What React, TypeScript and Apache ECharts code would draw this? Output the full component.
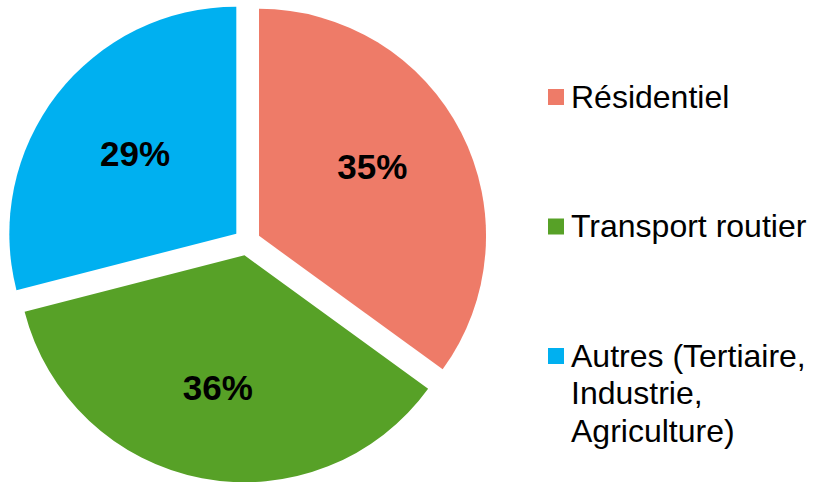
import React, { useEffect, useRef } from "react";
import * as echarts from "echarts";

const categories = ["Résidentiel", "Transport routier", "Autres (Tertiaire, Industrie, Agriculture)"];
const legendLabels = ["Résidentiel", "Transport routier", "Autres (Tertiaire,\nIndustrie,\nAgriculture)"];
const shares = [35, 36, 29];
const colors = ["#EE7B68", "#57A127", "#00B0F0"];

export default function App() {
  const ref = useRef<HTMLDivElement>(null);
  useEffect(() => {
    if (!ref.current) return;
    const chart = echarts.init(ref.current, undefined, { renderer: "svg" });
    const font = "'Liberation Sans', Arial, sans-serif";
    const center = [247, 242];
    const R = 227;
    const offset = 13.5;
    // per-slice fine nudges of the percentage labels [dx, dy]
    const labelNudge = [
      [-6.5, -8.5],
      [-1.5, 0],
      [5, 2.5],
    ];

    const mainData = categories.map((name, i) => ({
      name,
      value: shares[i],
      selected: true,
      itemStyle: { color: colors[i] },
      select: { itemStyle: { color: colors[i] } },
    }));
    const labelData = categories.map((name, i) => ({
      name,
      value: shares[i],
      selected: true,
      itemStyle: { color: "rgba(0,0,0,0)" },
      select: { itemStyle: { color: "rgba(0,0,0,0)" } },
    }));

    const legendTop = [97, 226.5, 356];
    const graphic: any[] = [];
    legendLabels.forEach((label, i) => {
      graphic.push({
        type: "rect",
        left: 548,
        top: legendTop[i] - 8,
        shape: { width: 16, height: 16 },
        style: { fill: colors[i] },
        silent: true,
      });
      graphic.push({
        type: "text",
        x: 571,
        y: legendTop[i] - 19,
        style: {
          text: label,
          font: `32px ${font}`,
          fill: "#000",
          lineHeight: 37.5,
          verticalAlign: "top",
          textAlign: "left",
        },
        silent: true,
      });
    });

    chart.setOption({
      animation: false,
      backgroundColor: "#fff",
      graphic,
      series: [
        {
          type: "pie",
          center,
          radius: [0, R],
          startAngle: 90,
          clockwise: true,
          selectedMode: "multiple",
          selectedOffset: offset,
          silent: true,
          emphasis: { disabled: true },
          label: { show: false },
          labelLine: { show: false },
          itemStyle: { borderWidth: 0 },
          data: mainData,
        },
        {
          type: "pie",
          center,
          radius: [36, R],
          startAngle: 90,
          clockwise: true,
          selectedMode: "multiple",
          selectedOffset: offset,
          silent: true,
          emphasis: { disabled: true },
          labelLine: { show: false },
          label: {
            show: true,
            position: "inside",
            formatter: (p: any) => `${p.value}%`,
            fontFamily: font,
            fontSize: 35,
            fontWeight: "bold",
            color: "#000",
          },
          labelLayout: (p: any) => ({
            dx: labelNudge[p.dataIndex][0],
            dy: labelNudge[p.dataIndex][1],
          }),
          itemStyle: { borderWidth: 0 },
          data: labelData,
        },
      ],
    });
    return () => chart.dispose();
  }, []);
  return (
    <div
      ref={ref}
      style={{ position: "fixed", left: 0, top: 0, width: 815, height: 482 }}
    />
  );
}
